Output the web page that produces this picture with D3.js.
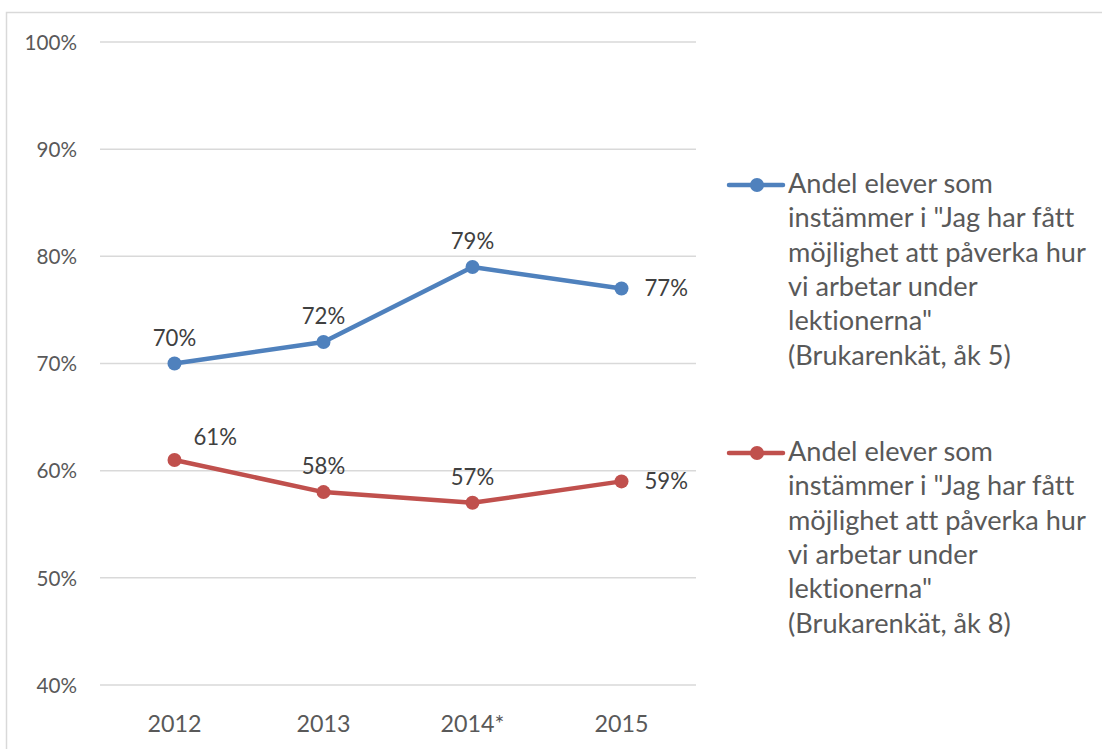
<!DOCTYPE html>
<html>
<head>
<meta charset="utf-8">
<script src="https://cdn.jsdelivr.net/npm/d3@7/dist/d3.min.js"></script>
<style>
  html, body { margin: 0; padding: 0; background: #fff; }
  svg { display: block; }
  text { font-family: Lato, "Open Sans", sans-serif; fill: #595959; font-variant-ligatures: none; font-feature-settings: "liga" 0; }
</style>
</head>
<body>
<script>
// ---- data ----
const categories = ["2012", "2013", "2014*", "2015"];
const seriesNames = [
  ["Andel elever som", "instämmer i \"Jag har fått", "möjlighet att påverka hur", "vi arbetar under", "lektionerna\"", "(Brukarenkät, åk 5)"],
  ["Andel elever som", "instämmer i \"Jag har fått", "möjlighet att påverka hur", "vi arbetar under", "lektionerna\"", "(Brukarenkät, åk 8)"]
];
const valuesAk5 = [0.70, 0.72, 0.79, 0.77];
const valuesAk8 = [0.61, 0.58, 0.57, 0.59];
const yTicks = [0.4, 0.5, 0.6, 0.7, 0.8, 0.9, 1.0];
const seriesColors = ["#4F81BD", "#C0504D"];
// label placement per point (style)
const labelPosAk5 = ["above", "above", "above", "right"];
const labelPosAk8 = ["aboveRight", "above", "above", "right"];

const series = [
  { name: seriesNames[0], values: valuesAk5, color: seriesColors[0], pos: labelPosAk5 },
  { name: seriesNames[1], values: valuesAk8, color: seriesColors[1], pos: labelPosAk8 }
];

const W = 1102, H = 749;
const svg = d3.select("body").append("svg").attr("width", W).attr("height", H);

function fitSize(sample, target) {
  const t = svg.append("text").attr("font-size", 100).text(sample);
  const w = t.node().getComputedTextLength();
  t.remove();
  return 100 * target / w;
}
fitSize("warm up 0123456789%", 100);
const fsY = fitSize("90%", 40.5);
const fsX = fitSize("2015", 54);
const fsLbl = fitSize("72%", 43.5);
const fsLeg = fitSize("Andel elever som", 205);

svg.append("rect").attr("x", 6.5).attr("y", 12.5).attr("width", W + 10).attr("height", H + 10)
  .attr("fill", "none").attr("stroke", "#d9d9d9").attr("stroke-width", 1.5);

const x = d3.scaleBand().domain(categories).range([100, 696]);
const y = d3.scaleLinear().domain([0.4, 1.0]).range([685, 42]);

svg.append("g").selectAll("line").data(yTicks).join("line")
  .attr("x1", 100).attr("x2", 696)
  .attr("y1", d => y(d)).attr("y2", d => y(d))
  .attr("stroke", "#d9d9d9").attr("stroke-width", 1.5);

const yAxis = d3.axisLeft(y).tickValues(yTicks).tickFormat(d3.format(".0%")).tickSize(0).tickPadding(0);
const gy = svg.append("g").attr("transform", "translate(77,0)").call(yAxis);
gy.select(".domain").remove();
gy.attr("font-family", null).attr("font-size", null);
gy.selectAll("text").attr("font-size", fsY).attr("dy", "0.35em");

const xAxis = d3.axisBottom(x).tickSize(0).tickPadding(0);
const gx = svg.append("g").attr("transform", "translate(0,732)").call(xAxis);
gx.select(".domain").remove();
gx.attr("font-family", null).attr("font-size", null);
gx.selectAll("text").attr("font-size", fsX).attr("dy", 0);

const cx = c => x(c) + x.bandwidth() / 2;
const line = d3.line().x((d, i) => cx(categories[i])).y(d => y(d));

series.forEach(s => {
  const g = svg.append("g");
  g.append("path").datum(s.values).attr("d", line)
    .attr("fill", "none").attr("stroke", s.color).attr("stroke-width", 4.5)
    .attr("stroke-linejoin", "round").attr("stroke-linecap", "round");
  g.selectAll("circle").data(s.values).join("circle")
    .attr("cx", (d, i) => cx(categories[i])).attr("cy", d => y(d))
    .attr("r", 7).attr("fill", s.color);
  g.selectAll("text").data(s.values).join("text")
    .attr("font-size", fsLbl)
    .style("fill", "#404040")
    .attr("x", (d, i) => {
      const p = s.pos[i], px = cx(categories[i]);
      if (p === "right") return px + 23;
      if (p === "aboveRight") return px + 19;
      return px;
    })
    .attr("y", (d, i) => {
      const p = s.pos[i], py = y(d);
      if (p === "right") return py + 8;
      if (p === "aboveRight") return py - 15;
      return py - 18;
    })
    .attr("text-anchor", (d, i) => (s.pos[i] === "above" ? "middle" : "start"))
    .text(d => d3.format(".0%")(d));
});

const legendTop = [185, 453];
series.forEach((s, k) => {
  const g = svg.append("g").attr("transform", `translate(0,${legendTop[k]})`);
  g.append("line").attr("x1", 729).attr("x2", 783).attr("y1", 0).attr("y2", 0)
    .attr("stroke", s.color).attr("stroke-width", 4.5).attr("stroke-linecap", "round");
  g.append("circle").attr("cx", 757).attr("cy", 0).attr("r", 7).attr("fill", s.color);
  const t = g.append("text").attr("x", 788).attr("y", 8).attr("font-size", fsLeg);
  s.name.forEach((ln, i) => {
    t.append("tspan").attr("x", 788).attr("dy", i === 0 ? 0 : 34.3).text(ln);
  });
});
</script>
</body>
</html>
